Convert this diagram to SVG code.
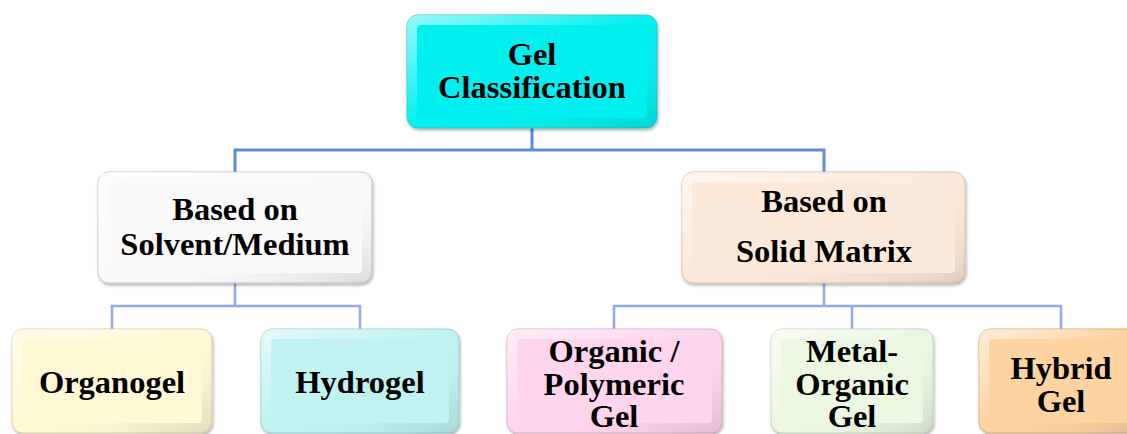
<svg xmlns="http://www.w3.org/2000/svg" width="1127" height="434" viewBox="0 0 1127 434">
<style>
.t{font-family:"Liberation Serif","Times New Roman",serif;font-weight:bold;font-size:32.5px;fill:#000;text-anchor:middle}
.edge{fill:url(#bevel)}
.c1{fill:none;stroke:#5E8AD9;stroke-width:3}
.c2{fill:none;stroke:#93A9E8;stroke-width:2.5}
</style>
<defs>
<linearGradient id="bevel" x1="0" y1="0" x2="1" y2="1">
<stop offset="0" stop-color="#fff" stop-opacity="0.6"/>
<stop offset="0.5" stop-color="#fff" stop-opacity="0"/>
<stop offset="1" stop-color="#000" stop-opacity="0.12"/>
</linearGradient>
<filter id="sh" x="-10%" y="-10%" width="120%" height="130%">
<feDropShadow dx="1" dy="2" stdDeviation="1.5" flood-color="#000" flood-opacity="0.3"/>
</filter>
</defs>
<g id="connectors">
<path class="c1" d="M532,128 V150 M235,172 V150 H824 V172"/>
<path class="c2" d="M235,283 V306 M112,329 V306 H360 V329"/>
<path class="c2" d="M824,283 V306 M614,329 V306 H1061 V329 M852,306 V329"/>
</g>
<g id="gel-classification">
<rect x="407" y="15" width="250" height="113" rx="11" fill="#00F0F0" stroke="#2CC8C8" filter="url(#sh)"/>
<rect class="edge" x="407" y="15" width="250" height="113" rx="11"/>
<rect x="417" y="25" width="230" height="93" rx="4" fill="#00F0F0"/>
<text class="t" x="532" y="65">Gel</text>
<text class="t" x="532" y="98">Classification</text>
</g>
<g id="solvent">
<rect x="98" y="172" width="274" height="111" rx="11" fill="#FAFAFA" stroke="#C8C8C8" filter="url(#sh)"/>
<rect class="edge" x="98" y="172" width="274" height="111" rx="11"/>
<rect x="108" y="182" width="254" height="91" rx="4" fill="#FAFAFA"/>
<text class="t" x="235" y="220">Based on</text>
<text class="t" x="235" y="255">Solvent/Medium</text>
</g>
<g id="solid">
<rect x="682" y="172" width="283" height="111" rx="11" fill="#FDE9D9" stroke="#D9C2B2" filter="url(#sh)"/>
<rect class="edge" x="682" y="172" width="283" height="111" rx="11"/>
<rect x="692" y="182" width="263" height="91" rx="4" fill="#FDE9D9"/>
<text class="t" x="824" y="212">Based on</text>
<text class="t" x="824" y="262">Solid Matrix</text>
</g>
<g id="organogel">
<rect x="12" y="329" width="200" height="104" rx="11" fill="#FFF8D4" stroke="#DCD2AE" filter="url(#sh)"/>
<rect class="edge" x="12" y="329" width="200" height="104" rx="11"/>
<rect x="22" y="339" width="180" height="84" rx="4" fill="#FFF8D4"/>
<text class="t" x="112" y="393">Organogel</text>
</g>
<g id="hydrogel">
<rect x="261" y="329" width="198" height="104" rx="11" fill="#C0F2F2" stroke="#9CD0D0" filter="url(#sh)"/>
<rect class="edge" x="261" y="329" width="198" height="104" rx="11"/>
<rect x="271" y="339" width="178" height="84" rx="4" fill="#C0F2F2"/>
<text class="t" x="360" y="393">Hydrogel</text>
</g>
<g id="organic-polymeric">
<rect x="507" y="329" width="215" height="104" rx="11" fill="#FFD5EE" stroke="#DDB0C8" filter="url(#sh)"/>
<rect class="edge" x="507" y="329" width="215" height="104" rx="11"/>
<rect x="517" y="339" width="195" height="84" rx="4" fill="#FFD5EE"/>
<text class="t" x="614" y="362">Organic /</text>
<text class="t" x="614" y="395">Polymeric</text>
<text class="t" x="614" y="427">Gel</text>
</g>
<g id="metal-organic">
<rect x="771" y="329" width="162" height="104" rx="11" fill="#EBF7E1" stroke="#C8D6BC" filter="url(#sh)"/>
<rect class="edge" x="771" y="329" width="162" height="104" rx="11"/>
<rect x="781" y="339" width="142" height="84" rx="4" fill="#EBF7E1"/>
<text class="t" x="852" y="362">Metal-</text>
<text class="t" x="852" y="395">Organic</text>
<text class="t" x="852" y="427">Gel</text>
</g>
<g id="hybrid">
<rect x="979" y="329" width="164" height="104" rx="11" fill="#FDD3A0" stroke="#D8AE7E" filter="url(#sh)"/>
<rect class="edge" x="979" y="329" width="164" height="104" rx="11"/>
<rect x="989" y="339" width="144" height="84" rx="4" fill="#FDD3A0"/>
<text class="t" x="1061" y="379">Hybrid</text>
<text class="t" x="1061" y="412">Gel</text>
</g>
</svg>
